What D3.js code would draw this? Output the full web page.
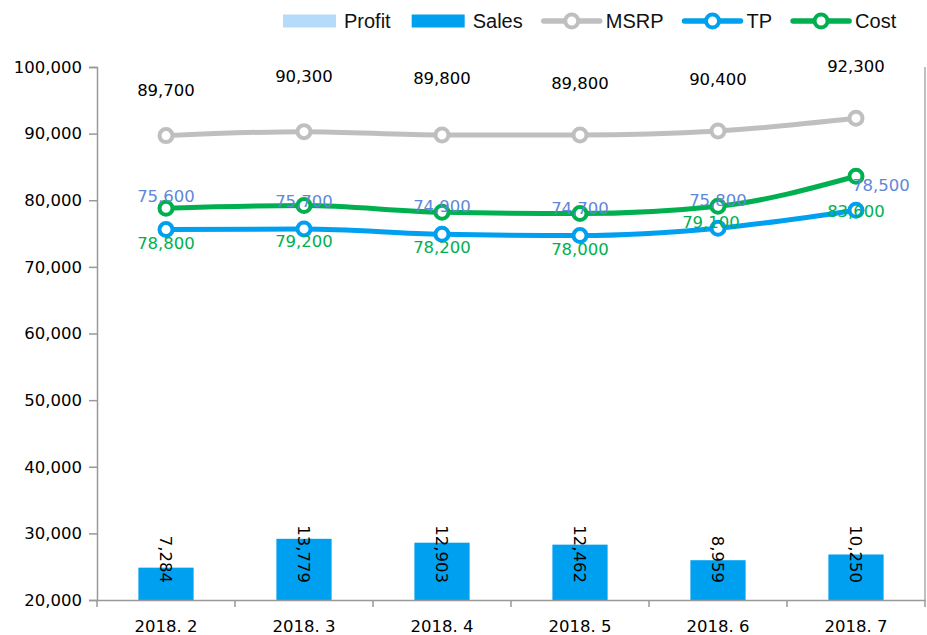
<!DOCTYPE html>
<html>
<head>
<meta charset="utf-8">
<script src="https://cdn.jsdelivr.net/npm/d3@7"></script>
<style>
  body { margin: 0; background: #fff; }
  svg { display: block; }
</style>
</head>
<body>
<svg id="chart"></svg>
<script>
// chart data
const months = ["2018. 2", "2018. 3", "2018. 4", "2018. 5", "2018. 6", "2018. 7"];
const sales = [7284, 13779, 12903, 12462, 8959, 10250];
const msrp = [89700, 90300, 89800, 89800, 90400, 92300];
const tp = [75600, 75700, 74900, 74700, 75800, 78500];
const cost = [78800, 79200, 78200, 78000, 79100, 83600];
const yTicks = [20000, 30000, 40000, 50000, 60000, 70000, 80000, 90000, 100000];

const width = 927;
const height = 635;
const margin = { top: 67, right: 2, bottom: 35, left: 97 };
const plotBottom = height - margin.bottom;
const plotRight = width - margin.right;

const colors = {
  profit: "#b4dcfa",
  sales: "#00a0f0",
  msrp: "#bfbfbf",
  tp: "#00a0f0",
  cost: "#00b050"
};
const numFont = "DejaVu Sans, Verdana, sans-serif";
const numSize = "16.5px";
const fmt = d3.format(",");

const svg = d3.select("#chart").attr("width", width).attr("height", height);

const x = d3.scaleBand().domain(months).range([margin.left, plotRight]).padding(0);
const y = d3.scaleLinear().domain([20000, 100000]).range([plotBottom, margin.top]);
// sales sit on a hidden secondary axis
const y2 = d3.scaleLinear().domain([0, 120000]).range([plotBottom, margin.top]);

const cx = (d, i) => x(months[i]) + x.bandwidth() / 2;

// bars
const barW = x.bandwidth() * 0.4;
svg.append("g")
  .selectAll("rect")
  .data(sales)
  .join("rect")
  .attr("x", (d, i) => cx(d, i) - barW / 2)
  .attr("y", d => y2(d))
  .attr("width", barW)
  .attr("height", d => plotBottom - y2(d))
  .attr("fill", colors.sales);

// bar labels, rotated
svg.append("g")
  .selectAll("text")
  .data(sales)
  .join("text")
  .attr("transform", (d, i) => `translate(${cx(d, i)},${plotBottom - 17}) rotate(90)`)
  .attr("text-anchor", "end")
  .attr("dy", "0.36em")
  .style("font-family", numFont)
  .style("font-size", numSize)
  .attr("fill", "#000")
  .text(d => fmt(d));

// y axis
const yAxis = svg.append("g")
  .attr("transform", `translate(${margin.left},0)`)
  .call(d3.axisLeft(y).tickValues(yTicks).tickSize(8).tickPadding(7).tickFormat(fmt));
yAxis.select(".domain").attr("stroke", "#999").attr("stroke-width", 1.5);
yAxis.selectAll(".tick line").attr("stroke", "#999").attr("stroke-width", 1.5);
yAxis.selectAll("text")
  .style("font-family", numFont)
  .style("font-size", numSize)
  .attr("fill", "#000");

// right border line
svg.append("line")
  .attr("x1", plotRight).attr("x2", plotRight)
  .attr("y1", margin.top).attr("y2", plotBottom)
  .attr("stroke", "#aaa").attr("stroke-width", 1.5);

// x axis
const xAxis = svg.append("g")
  .attr("transform", `translate(0,${plotBottom})`)
  .call(d3.axisBottom(x).tickSize(0).tickPadding(20));
xAxis.select(".domain").attr("stroke", "#999").attr("stroke-width", 1.5);
xAxis.selectAll("text")
  .style("font-family", numFont)
  .style("font-size", numSize)
  .attr("fill", "#000");
// category boundary ticks
const edges = months.map(m => x(m)).concat([plotRight]);
xAxis.selectAll(".edge")
  .data(edges)
  .join("line")
  .attr("class", "edge")
  .attr("x1", d => d).attr("x2", d => d)
  .attr("y1", 0).attr("y2", 7)
  .attr("stroke", "#999").attr("stroke-width", 1.5);

// lines
const series = [
  { key: "msrp", values: msrp, labelColor: "#000", dy: -52 },
  { key: "tp", values: tp, labelColor: "#5f87d8", dy: -28 },
  { key: "cost", values: cost, labelColor: "#00b050", dy: 35 }
];
// small nudges where labels collide
const nudge = {
  "msrp-0": [0, 6], "msrp-1": [0, -4], "msrp-2": [0, -5],
  "tp-0": [0, -6], "tp-5": [25, 3],
  "cost-4": [-7, -19]
};

const line = d3.line()
  .x((d, i) => cx(d, i))
  .y(d => y(d))
  .curve(d3.curveMonotoneX);

series.forEach(s => {
  const g = svg.append("g");
  g.append("path")
    .datum(s.values)
    .attr("d", line)
    .attr("fill", "none")
    .attr("stroke", colors[s.key])
    .attr("stroke-width", 5)
    .attr("stroke-linecap", "round");
  g.selectAll("circle")
    .data(s.values)
    .join("circle")
    .attr("cx", (d, i) => cx(d, i))
    .attr("cy", d => y(d))
    .attr("r", 6.5)
    .attr("fill", "#fff")
    .attr("stroke", colors[s.key])
    .attr("stroke-width", 4);
});

// line labels drawn last so they sit on top
series.forEach(s => {
  svg.append("g")
    .selectAll("text")
    .data(s.values)
    .join("text")
    .attr("x", (d, i) => cx(d, i) + (nudge[s.key + "-" + i] || [0, 0])[0])
    .attr("y", (d, i) => y(d) + s.dy + (nudge[s.key + "-" + i] || [0, 0])[1])
    .attr("text-anchor", "middle")
    .attr("dy", "0.36em")
    .style("font-family", numFont)
    .style("font-size", numSize)
    .attr("fill", s.labelColor)
    .text(d => fmt(d));
});

// legend
const legendItems = [
  { name: "Profit", type: "rect", color: colors.profit },
  { name: "Sales", type: "rect", color: colors.sales },
  { name: "MSRP", type: "line", color: colors.msrp },
  { name: "TP", type: "line", color: colors.tp },
  { name: "Cost", type: "line", color: colors.cost }
];
const legend = svg.append("g").attr("transform", "translate(283,21)");
let lx = 0;
legendItems.forEach(item => {
  const g = legend.append("g").attr("transform", `translate(${lx},0)`);
  let tx;
  if (item.type === "rect") {
    g.append("rect").attr("x", 0).attr("y", -6.5).attr("width", 53).attr("height", 13).attr("fill", item.color);
    tx = 61;
  } else {
    g.append("line").attr("x1", 0).attr("x2", 56).attr("y1", 0).attr("y2", 0)
      .attr("stroke", item.color).attr("stroke-width", 5.5).attr("stroke-linecap", "round");
    g.append("circle").attr("cx", 28).attr("cy", 0).attr("r", 6.5)
      .attr("fill", "#fff").attr("stroke", item.color).attr("stroke-width", 4);
    tx = 62;
  }
  const t = g.append("text")
    .attr("x", tx)
    .attr("dy", "0.36em")
    .style("font-family", "Liberation Sans, Arial, sans-serif")
    .style("font-size", "20px")
    .attr("fill", "#111")
    .text(item.name);
  lx += tx + t.node().getComputedTextLength() + 21;
});
</script>
</body>
</html>
